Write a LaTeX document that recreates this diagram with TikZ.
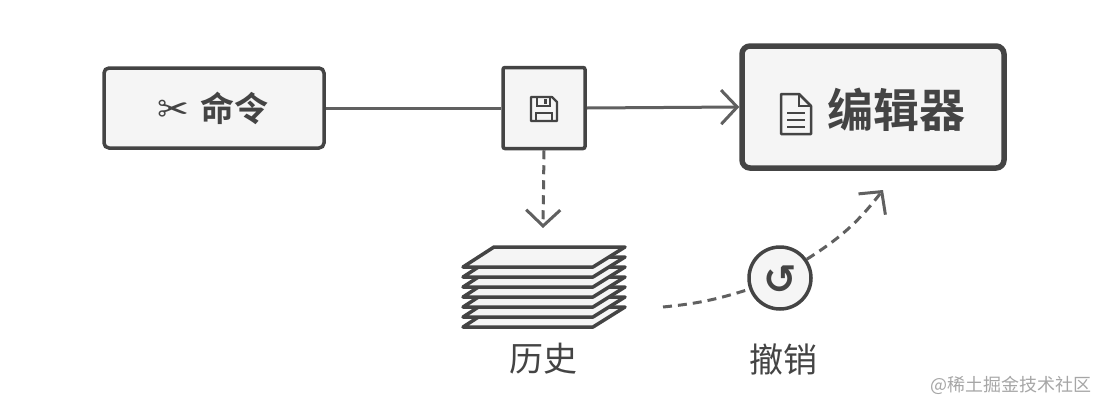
\documentclass[tikz,border=0pt]{standalone}
\usepackage{fontspec}
\setmainfont{Noto Sans CJK SC}
\newfontfamily\cjkb{Noto Sans CJK SC Bold}
\newfontfamily\dejavu{DejaVu Sans}
\newfontfamily\dejavub{DejaVu Sans Bold}
\usetikzlibrary{arrows.meta}
\definecolor{ln}{HTML}{444444}
\definecolor{bx}{HTML}{F5F5F5}
\begin{document}
\begin{tikzpicture}[x=1pt,y=-1pt,
  box/.style={draw=ln,fill=bx,line width=3.5pt,rounded corners=5pt},
  conn/.style={draw=ln!85,line width=3pt,-{Straight Barb[length=16pt,width=34pt,line width=3pt]}},
  dconn/.style={conn,dash pattern=on 9pt off 6pt},
  txt/.style={text=ln,inner sep=0pt}]
\useasboundingbox (0,0) rectangle (1100,410);
\node[box,minimum width=220pt,minimum height=80pt] (cmd) at (214,108) {};
\node[box,rounded corners=2pt,minimum width=82pt,minimum height=81pt] (save) at (544,108) {};
\node[box,line width=5.5pt,rounded corners=8pt,minimum width=262pt,minimum height=122pt] (ed) at (873,107) {};
\node[txt,font=\cjkb\fontsize{34}{34}\selectfont] (cmdt) at (234,108) {命令};
\node[txt,font=\dejavub\fontsize{38}{38}\selectfont] (sc) at (173,111) {✂};
\node[txt,font=\cjkb\fontsize{46}{46}\selectfont] (edt) at (896,110) {编辑器};
% document icon
\draw[ln,line width=2.5pt,line join=round] (781,94) -- (799,94) -- (811,106) -- (811,134) -- (781,134) -- cycle;
\draw[ln,line width=2pt] (799,94) -- (799,106) -- (811,106);
\foreach \yy in {113,120,127}{\draw[ln,line width=2pt] (787,\yy) -- (805,\yy);}
% floppy icon
\draw[ln,line width=2.2pt,line join=round] (531,97) -- (552,97) -- (557,102) -- (557,121) -- (531,121) -- cycle;
\draw[ln,line width=2pt] (537,97) -- (537,106) -- (550,106) -- (550,97);
\draw[ln,line width=2pt] (536,121) -- (536,113) -- (552,113) -- (552,121);
\fill[ln] (544,99) rectangle (547,104);
% history stack
\foreach \k in {6,5,...,0}{
  \draw[ln,fill=bx,line width=3.5pt,line join=round] (494,247+10*\k) -- (625,247+10*\k) -- (593,267+10*\k) -- (463,267+10*\k) -- cycle;}
\coordinate (hist) at (543,228);
\coordinate (hs) at (663,307);
\node[txt,font=\fontsize{34}{34}\selectfont] (ht) at (543,359) {历史};
% undo
\node[draw=ln,fill=bx,line width=3.5pt,circle,minimum size=62pt] (undo) at (780,278) {};
\node[txt,font=\dejavub\fontsize{40}{40}\selectfont] (ui) at (780,280) {↺};
\node[txt,font=\fontsize{34}{34}\selectfont] (ut) at (783,359) {撤销};
\coordinate (ue) at (883,190);
% connectors
\draw[draw=ln!85,line width=3pt] (cmd.east) -- (save.west);
\draw[conn] (save.east) -- (ed.west);
\draw[dconn] (save.south) -- (hist);
\draw[draw=ln!85,line width=3pt,dash pattern=on 9pt off 6pt] (hs) to[bend right=6] (undo.200);
\draw[dconn] (undo.35) to[bend right=10] (ue);
\node[txt,text=gray!70,font=\fontsize{18}{18}\selectfont,anchor=east] (wm) at (1092,385) {@稀土掘金技术社区};
\end{tikzpicture}
\end{document}
